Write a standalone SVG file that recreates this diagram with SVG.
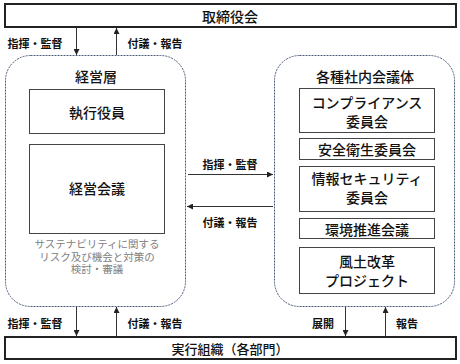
<svg xmlns="http://www.w3.org/2000/svg" width="460" height="364" viewBox="0 0 460 364">
<defs>
<marker id="ah" viewBox="0 0 6 6" refX="6" refY="3" markerWidth="6" markerHeight="6" markerUnits="userSpaceOnUse" orient="auto">
<path d="M0,0 L6,3 L0,6 z" fill="#222"/>
</marker>
</defs>
<style>
text{font-family:"Noto Sans CJK JP","Noto Sans CJK SC",sans-serif;text-anchor:middle;dominant-baseline:central;fill:#111}
.big{font-size:14px;font-weight:500}
.mid{font-size:13px;font-weight:500}
.lbl{font-size:11px;font-weight:bold}
.note{font-size:10.5px;fill:#808080}
.main{fill:#fff;stroke:#222;stroke-width:2}
.box{fill:#fff;stroke:#444;stroke-width:1}
.grp{fill:#fff;stroke:#4a5a78;stroke-width:1;stroke-dasharray:2 1}
.con{stroke:#333;stroke-width:1;fill:none;marker-end:url(#ah)}
</style>
<rect width="460" height="364" fill="#fff"/>
<g id="board">
<rect class="main" x="5" y="4" width="451" height="23"/>
<text class="big" x="230" y="16">取締役会</text>
</g>
<g id="management">
<rect class="grp" x="5.5" y="55.5" width="180" height="251" rx="25" ry="25"/>
<text class="big" x="96" y="76">経営層</text>
</g>
<g id="officers">
<rect class="box" x="29.5" y="89.5" width="135" height="44"/>
<text class="big" x="97" y="112">執行役員</text>
</g>
<g id="mgmt-meeting">
<rect class="box" x="29.5" y="144.5" width="135" height="89"/>
<text class="big" x="97" y="188">経営会議</text>
<text class="note" x="97" y="243.5">サステナビリティに関する</text>
<text class="note" x="97" y="256">リスク及び機会と対策の</text>
<text class="note" x="97" y="268.5">検討・審議</text>
</g>
<g id="committees">
<rect class="grp" x="274.5" y="55.5" width="180" height="251" rx="25" ry="25"/>
<text class="big" x="365" y="76">各種社内会議体</text>
</g>
<g id="compliance">
<rect class="box" x="299.5" y="88.5" width="135" height="44"/>
<text class="big" x="367" y="102">コンプライアンス</text>
<text class="big" x="367" y="121">委員会</text>
</g>
<g id="safety">
<rect class="box" x="299.5" y="138.5" width="135" height="21"/>
<text class="big" x="367" y="149">安全衛生委員会</text>
</g>
<g id="infosec">
<rect class="box" x="299.5" y="166.5" width="135" height="45"/>
<text class="big" x="367" y="178">情報セキュリティ</text>
<text class="big" x="367" y="197">委員会</text>
</g>
<g id="environment">
<rect class="box" x="299.5" y="218.5" width="135" height="20"/>
<text class="big" x="367" y="229">環境推進会議</text>
</g>
<g id="culture">
<rect class="box" x="299.5" y="247.5" width="135" height="46"/>
<text class="big" x="367" y="261">風土改革</text>
<text class="big" x="367" y="280">プロジェクト</text>
</g>
<g id="execution">
<rect class="main" x="5" y="337" width="451" height="22"/>
<text class="mid" x="230" y="348.5">実行組織（各部門）</text>
</g>
<g id="connectors">
<line class="con" x1="76.5" y1="28" x2="76.5" y2="55"/>
<line class="con" x1="116.5" y1="55" x2="116.5" y2="28"/>
<text class="lbl" x="35" y="43">指揮・監督</text>
<text class="lbl" x="155" y="43">付議・報告</text>
<line class="con" x1="188" y1="174.5" x2="273" y2="174.5"/>
<line class="con" x1="273" y1="206.5" x2="187" y2="206.5"/>
<text class="lbl" x="230" y="164">指揮・監督</text>
<text class="lbl" x="230" y="222">付議・報告</text>
<line class="con" x1="76.5" y1="307" x2="76.5" y2="336"/>
<line class="con" x1="116.5" y1="336" x2="116.5" y2="307"/>
<text class="lbl" x="35" y="323">指揮・監督</text>
<text class="lbl" x="155" y="323">付議・報告</text>
<line class="con" x1="345.5" y1="307" x2="345.5" y2="336"/>
<line class="con" x1="385.5" y1="336" x2="385.5" y2="307"/>
<text class="lbl" x="323" y="323">展開</text>
<text class="lbl" x="407" y="323">報告</text>
</g>
</svg>
